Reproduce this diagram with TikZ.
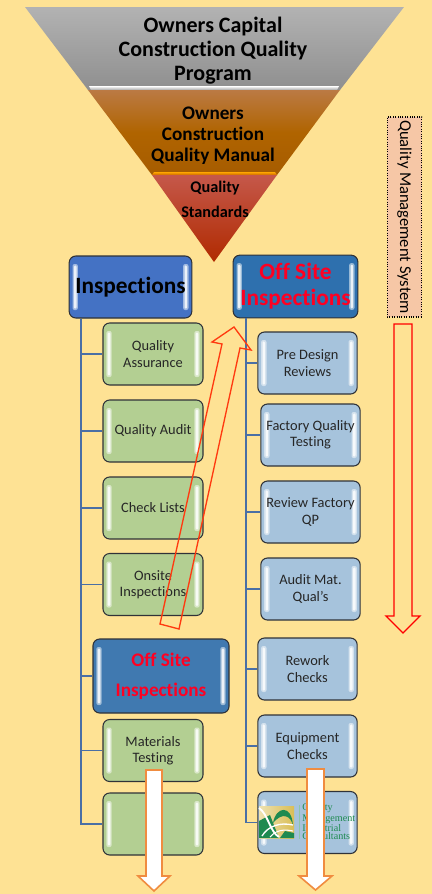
\documentclass[tikz,border=0pt]{standalone}
\usepackage{fontspec}
\setmainfont[Ligatures=NoCommon]{Carlito}
\newfontfamily\logofont{Liberation Serif}
\definecolor{pagebg}{HTML}{FEE294}
\definecolor{boxedge}{HTML}{2F3238}
\definecolor{linkblue}{HTML}{4A6FA5}
\definecolor{greenbox}{HTML}{B3CF92}
\definecolor{paleblue}{HTML}{A6C3DC}
\definecolor{headblue}{HTML}{4472C4}
\definecolor{deepblue}{HTML}{2E70AE}
\definecolor{midblue}{HTML}{4079B0}
\definecolor{sidebox}{HTML}{F6C7A6}
\definecolor{arrowred}{HTML}{FF3A10}
\definecolor{arroworange}{HTML}{F08C40}
\definecolor{offred}{HTML}{FF0022}
\definecolor{logogreen}{HTML}{1E8A50}
\definecolor{logogold}{HTML}{D9BE55}
\definecolor{manualtop}{HTML}{BB7A44}
\definecolor{manualmid}{HTML}{B06400}
\definecolor{manualend}{HTML}{A65C00}
\definecolor{standtop}{HTML}{C5584A}
\definecolor{standend}{HTML}{B02A00}
\begin{document}
\begin{tikzpicture}[x=0.75pt,y=-0.75pt,
    gloss/.style={draw=boxedge, line width=0.8pt, rounded corners=5pt, inner sep=0pt, align=center, fill=#1,
        path picture={
            \fill[#1!50!white, rounded corners=1.5pt] ([xshift=2.5pt,yshift=-6pt]path picture bounding box.north west) rectangle ([xshift=6.5pt,yshift=6pt]path picture bounding box.south west);
            \fill[white!90!#1, rounded corners=1pt] ([xshift=3.5pt,yshift=-7pt]path picture bounding box.north west) rectangle ([xshift=5.5pt,yshift=7pt]path picture bounding box.south west);
            \fill[#1!50!white, rounded corners=1.5pt] ([xshift=-6.5pt,yshift=-6pt]path picture bounding box.north east) rectangle ([xshift=-2.5pt,yshift=6pt]path picture bounding box.south east);
            \fill[white!90!#1, rounded corners=1pt] ([xshift=-5.5pt,yshift=-7pt]path picture bounding box.north east) rectangle ([xshift=-3.5pt,yshift=7pt]path picture bounding box.south east);
        }},
    item/.style={gloss=greenbox, minimum width=75pt, minimum height=46.5pt, text=black!85, font=\fontsize{10.8}{12.2}\selectfont},
    offitem/.style={gloss=paleblue, minimum width=74.5pt, minimum height=46.5pt, text=black!85, font=\fontsize{10.8}{12.2}\selectfont},
    link/.style={draw=linkblue, line width=1pt},
    tier/.style={align=center, inner sep=0pt, font=\bfseries},
    outarrow/.style={draw=arroworange, fill=white, line width=1.2pt, line join=miter}]

    % Fond
    \fill[pagebg] (0,0) rectangle (432,894);
    \useasboundingbox (0,0) rectangle (432,894);

    % Entonnoir
    \shade[top color=black!30, bottom color=black!44] (25,7) -- (404,7) -- (340,90) -- (88,90) -- cycle;
    \shade[top color=white, bottom color=black!35] (89,86) -- (339,86) -- (337,90) -- (91,90) -- cycle;
    \shade[top color=manualtop, bottom color=manualend, middle color=manualmid] (88,90) -- (340,90) -- (277,175) -- (152,175) -- cycle;
    \shade[top color=orange!70!yellow, bottom color=orange!80!black] (154,172) -- (275,172) -- (277,175) -- (152,175) -- cycle;
    \shade[top color=standtop, bottom color=standend] (152,175) -- (277,175) -- (214,262) -- cycle;

    \node[tier, font=\bfseries\fontsize{16.5}{18}\selectfont] (capital) at (213,51) {Owners Capital\\Construction Quality\\Program};
    \node[tier, font=\bfseries\fontsize{14.4}{15.8}\selectfont] (manual) at (213,136) {Owners\\Construction\\Quality Manual};
    \node[tier, font=\bfseries\fontsize{12.2}{18.7}\selectfont] (standards) at (215,199.5) {Quality\\Standards};

    % Colonne de gauche
    \node[gloss=headblue, minimum width=92pt, minimum height=46.5pt, font=\bfseries\fontsize{17.5}{20}\selectfont] (insp) at (130.5,287) {\raisebox{-3pt}{Inspections}};
    \node[item] (assurance) at (153,354) {Quality\\Assurance};
    \node[item] (audit) at (153,431) {Quality Audit};
    \node[item] (checks) at (153,508) {Check Lists};
    \node[item] (onsite) at (153,584.5) {Onsite\\Inspections};
    \node[gloss=midblue, minimum width=102pt, minimum height=55.5pt, text=offred, font=\bfseries\fontsize{14.4}{22.5}\selectfont] (offmid) at (161,676) {\raisebox{-0.8pt}{Off Site}\\\raisebox{-0.8pt}{Inspections}};
    \node[item] (materials) at (153,750.5) {Materials\\Testing};
    \node[item] (blank) at (153,824) {};

    \draw[link] (insp.south -| 81,0) |- (assurance.west);
    \draw[link] (insp.south -| 81,0) |- (audit.west);
    \draw[link] (insp.south -| 81,0) |- (checks.west);
    \draw[link] (insp.south -| 81,0) |- (onsite.west);
    \draw[link] (insp.south -| 81,0) |- (offmid.west);
    \draw[link] (insp.south -| 81,0) |- (materials.west);
    \draw[link] (insp.south -| 81,0) |- (blank.west);

    % Colonne de droite
    \node[gloss=deepblue, minimum width=93.5pt, minimum height=47pt, text=offred, font=\bfseries\fontsize{17.5}{19.5}\selectfont] (offtop) at (295.5,286.5) {\raisebox{-3pt}{Off Site}\\\raisebox{-3pt}{Inspections}};
    \node[offitem] (predesign) at (307.5,363) {Pre Design\\Reviews};
    \node[offitem] (factory) at (310.5,435) {Factory Quality\\Testing};
    \node[offitem] (reviewqp) at (310.5,512) {Review Factory\\QP};
    \node[offitem] (auditmat) at (310.5,589) {Audit Mat.\\Qual's};
    \node[offitem] (rework) at (307.5,669) {Rework\\Checks};
    \node[offitem] (equipment) at (307.5,746) {Equipment\\Checks};
    \node[offitem] (logobox) at (307.5,822.5) {};

    \draw[link] (offtop.south -| 246,0) |- (predesign.west);
    \draw[link] (offtop.south -| 246,0) |- (factory.west);
    \draw[link] (offtop.south -| 246,0) |- (reviewqp.west);
    \draw[link] (offtop.south -| 246,0) |- (auditmat.west);
    \draw[link] (offtop.south -| 246,0) |- (rework.west);
    \draw[link] (offtop.south -| 246,0) |- (equipment.west);
    \draw[link] (offtop.south -| 246,0) |- (logobox.west);

    % Logo
    \shade[left color=logogold!45!white, right color=logogold] (259,806) rectangle (294,838);
    \fill[logogreen] (259,821) -- (270,815) -- (279,838) -- (259,838) -- cycle;
    \fill[logogreen] (273,823) .. controls (276,806) and (292,804) .. (293,826) .. controls (291,815) and (282,812) .. (273,823) -- cycle;
    \fill[logogreen] (280,838) -- (285,831) -- (294,833) -- (294,838) -- cycle;
    \draw[white, line width=1.4pt] (259,808) .. controls (268,814) and (270,832) .. (279,837);
    \draw[white, line width=1pt] (262,836) .. controls (268,826) and (280,822) .. (293,825);
    \draw[white, line width=0.8pt] (270,837) .. controls (276,830) and (284,829) .. (293,831);
    \draw[logogreen!50, line width=0.3pt] (299,805) -- (299,839);
    \node[anchor=west, inner sep=0pt, align=left, text=logogreen, font=\logofont\fontsize{7.6}{6.2}\selectfont] (logotext) at (302,822) {Quality\\Management\\Industrial\\Consultants};

    % Barre laterale
    \node[draw=black, densely dotted, line width=0.8pt, fill=sidebox, minimum width=150pt, minimum height=26pt, inner sep=0pt, rotate=-90, font=\fontsize{12.4}{14}\selectfont] (qms) at (404.5,217) {Quality Management System};

    % Fleches
    \draw[draw=red, line width=1pt, fill=none] (394,324) -- (412,324) -- (412,616) -- (420,616) -- (403,633) -- (386,616) -- (394,616) -- cycle;
    \draw[draw=arrowred, line width=1pt, fill=none] (160,624) -- (222,344) -- (212,342) -- (234,327) -- (251,350) -- (240,348) -- (179,629) -- cycle;
    \draw[outarrow] (146,770) -- (162,770) -- (162,876) -- (170,876) -- (154,891) -- (138,876) -- (146,876) -- cycle;
    \draw[outarrow] (307,769) -- (324,769) -- (324,876) -- (332,876) -- (315.5,890) -- (299,876) -- (307,876) -- cycle;
\end{tikzpicture}
\end{document}
